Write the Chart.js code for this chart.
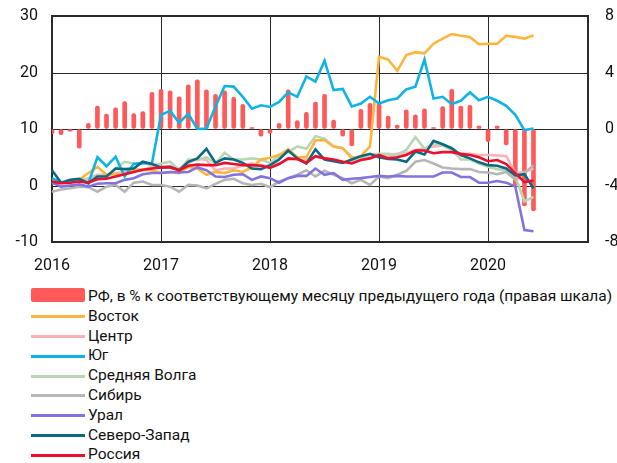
<!DOCTYPE html>
<html>
<head>
<meta charset="utf-8">
<script src="https://cdn.jsdelivr.net/npm/chart.js@4/dist/chart.umd.min.js"></script>
<style>
  html, body { margin: 0; padding: 0; background: #fff; }
  #c { display: block; }
  #legend { position: absolute; left: 0; top: 287px; font-family: Roboto, sans-serif; font-size: 15.5px; color: #111; }
  .row { position: relative; height: 19.8px; white-space: nowrap; }
  .sw { position: absolute; left: 31px; width: 54px; }
  .txt { position: absolute; left: 88px; top: 0; line-height: 19.8px; }
</style>
</head>
<body>
<canvas id="c" width="617" height="282"></canvas>
<div id="legend"></div>
<script>
// Categories: months Jan 2016 .. Dec 2020
const months = [
  '2016-01','2016-02','2016-03','2016-04','2016-05','2016-06','2016-07','2016-08','2016-09','2016-10','2016-11','2016-12',
  '2017-01','2017-02','2017-03','2017-04','2017-05','2017-06','2017-07','2017-08','2017-09','2017-10','2017-11','2017-12',
  '2018-01','2018-02','2018-03','2018-04','2018-05','2018-06','2018-07','2018-08','2018-09','2018-10','2018-11','2018-12',
  '2019-01','2019-02','2019-03','2019-04','2019-05','2019-06','2019-07','2019-08','2019-09','2019-10','2019-11','2019-12',
  '2020-01','2020-02','2020-03','2020-04','2020-05','2020-06','2020-07','2020-08','2020-09','2020-10','2020-11','2020-12'
];
const yearLabels = ['2016','2017','2018','2019','2020'];

// RF, % y/y (right axis)
const rfBars = [-0.35,-0.4,-0.15,-1.35,0.4,1.63,1.06,1.5,1.94,1.1,1.23,2.6,
  2.8,2.7,2.27,3.12,3.48,2.77,2.46,2.7,2.25,1.75,0.1,-0.5,
  -0.3,0.4,2.77,0.6,1.18,1.9,2.46,0.64,-0.5,-1.2,1.4,1.82,
  1.82,0.92,0.28,1.35,1.0,1.42,0.1,1.58,2.8,1.63,1.68,0.2,
  -0.9,0.2,-1.13,-4.0,-5.45,-5.8];

const vostok = [0.4,0.5,0.7,1.0,2.2,3.3,1.9,2.0,1.9,2.7,2.8,2.7,
  2.2,2.4,2.2,3.3,3.0,1.9,2.4,2.2,2.7,2.4,3.2,4.6,
  4.9,5.4,6.4,5.0,5.0,8.0,8.0,6.9,6.6,4.8,5.2,6.9,
  22.8,22.3,20.3,23.1,23.6,23.4,25.1,26.0,26.8,26.5,26.3,25.0,
  25.1,25.1,26.5,26.3,26.0,26.6];

const centr = [0.7,0.4,0.7,0.7,1.3,1.9,1.9,2.2,2.4,3.0,2.7,3.3,
  3.3,3.4,3.0,3.9,4.8,4.5,2.7,3.0,3.0,3.6,3.9,3.6,
  3.4,3.9,4.6,4.6,4.5,5.1,4.8,4.5,4.2,4.2,4.8,5.1,
  5.6,5.1,5.6,5.7,6.3,6.6,6.9,7.1,6.3,5.6,5.6,5.4,
  5.4,5.3,5.2,2.2,2.4,3.0];

const yug = [1.3,0.5,0.7,1.0,0.4,5.0,3.4,5.1,1.6,3.8,4.0,3.9,
  12.5,13.2,11.1,12.7,10.0,10.1,14.0,17.6,17.5,15.7,13.6,14.2,
  13.9,14.8,16.5,15.7,19.3,18.4,22.1,16.9,17.1,14.0,14.5,15.7,
  14.5,15.1,15.4,17.0,17.5,22.3,15.4,15.7,14.4,15.0,16.5,15.1,
  15.7,15.0,14.1,12.5,9.8,10.1];

const volga = [0.7,0.5,0.7,1.0,1.0,1.7,1.6,3.0,4.2,3.9,4.0,3.6,
  3.9,4.2,2.7,4.6,4.5,5.0,3.9,5.8,4.6,4.6,4.8,4.6,
  4.0,5.2,5.9,6.9,6.5,8.7,8.3,6.9,6.6,5.1,4.6,5.4,
  5.6,5.6,5.4,6.3,8.6,6.5,7.5,7.1,6.3,4.6,4.6,3.9,
  3.3,2.9,2.7,1.6,-2.8,-2.0];

const sibir = [-1.1,-0.7,-0.5,-0.2,-0.3,-1.1,-0.2,0.1,-1.1,0.5,0.7,0.1,
  0.1,-0.2,-1.1,0.1,0.0,-0.5,0.3,1.0,1.2,0.4,0.1,0.3,
  -0.3,0.7,1.3,1.9,2.7,1.6,2.6,1.9,1.3,0.4,1.0,0.1,
  1.6,1.3,1.9,2.6,4.2,4.5,3.9,3.2,3.0,2.9,2.9,2.4,
  2.3,2.0,2.4,1.0,2.2,3.6];

const ural = [0.5,-0.2,0.0,0.2,-0.2,0.3,0.4,0.4,1.0,1.3,2.0,2.2,
  2.2,2.4,2.3,2.4,3.2,2.7,1.6,1.5,1.9,2.0,1.0,1.6,
  1.3,0.5,1.3,1.7,1.7,3.0,1.9,2.2,1.0,1.2,1.3,1.5,
  1.7,1.6,1.7,1.6,1.6,1.6,1.6,2.3,2.3,1.5,1.5,0.5,
  0.5,0.8,0.5,-0.2,-7.9,-8.1];

const sevzap = [2.7,0.5,1.0,1.2,0.4,1.6,1.6,3.0,2.9,3.0,4.2,3.8,
  3.2,3.3,2.7,4.2,4.8,6.5,4.0,4.8,4.6,4.0,3.0,2.9,
  3.6,4.6,6.2,4.8,3.9,6.4,4.6,4.3,4.0,4.6,5.2,5.6,
  5.0,4.7,4.6,4.2,6.0,5.5,7.9,7.3,6.6,5.4,4.8,4.1,
  3.6,3.5,3.0,1.8,2.0,-0.5];

const rossiya = [0.7,0.4,0.5,0.7,0.5,1.1,1.2,1.6,2.0,2.4,2.8,3.0,
  3.2,3.2,2.7,3.5,3.7,3.6,3.6,4.0,3.8,3.6,3.6,3.5,
  3.1,3.8,4.8,4.7,4.0,5.2,4.8,4.6,4.2,3.9,4.5,4.8,
  5.4,4.8,5.0,5.4,6.2,6.2,5.7,5.9,5.9,5.6,5.4,5.0,
  4.3,4.5,3.8,2.2,0.6,0.9];

const seriesNames = ['РФ, в % к соответствующему месяцу предыдущего года (правая шкала)',
  'Восток','Центр','Юг','Средняя Волга','Сибирь','Урал','Северо-Запад','Россия'];
const seriesColors = ['#ff5a5a','#ffb43c','#f8b4b4','#10b4e4','#b9d6b4','#b6b6b6','#8274e0','#0b6a80','#e8102e'];
const lineData = [vostok, centr, yug, volga, sibir, ural, sevzap, rossiya];
const drawOrder = [9, 5, 8, 3, 7, 6, 4, 2, 1]; // lower = drawn on top

const gridColor = '#2a2a2a';
const clear = 'rgba(0,0,0,0)';

const datasets = [{
  type: 'bar', label: seriesNames[0], data: rfBars, yAxisID: 'y1',
  backgroundColor: seriesColors[0], barThickness: 4, borderRadius: 2, borderSkipped: false,
  order: drawOrder[0]
}];
lineData.forEach((d, k) => {
  datasets.push({
    type: 'line', label: seriesNames[k + 1], data: d, yAxisID: 'y',
    borderColor: seriesColors[k + 1], backgroundColor: seriesColors[k + 1],
    borderWidth: 2.6, pointRadius: 0, tension: 0,
    order: drawOrder[k + 1]
  });
});

// Frame and grid drawn through the chart's own scales
const framePlugin = {
  id: 'frame',
  beforeDatasetsDraw(chart) {
    const { ctx, chartArea: a, scales } = chart;
    ctx.save();
    ctx.strokeStyle = gridColor;
    ctx.lineWidth = 1;
    ctx.beginPath();
    scales.y.ticks.forEach((t) => {
      const py = Math.round(scales.y.getPixelForValue(t.value)) + 0.5;
      ctx.moveTo(a.left, py); ctx.lineTo(a.right, py);
    });
    yearLabels.forEach((lab, j) => {
      const px = Math.round(scales.x.getPixelForValue(j * 12)) + 0.5;
      ctx.moveTo(px, a.top); ctx.lineTo(px, a.bottom);
    });
    ctx.stroke();
    ctx.lineWidth = 2;
    ctx.strokeRect(Math.round(a.left), Math.round(a.top), Math.round(a.right - a.left), Math.round(a.bottom - a.top));
    ctx.restore();
  }
};

const tickFont = { family: 'Roboto, sans-serif', size: 16 };

const chart = new Chart(document.getElementById('c'), {
  type: 'bar',
  data: { labels: months, datasets },
  plugins: [framePlugin],
  options: {
    responsive: false, animation: false,
    plugins: { legend: { display: false }, tooltip: { enabled: false } },
    layout: { padding: { top: 16, left: 0, right: 0, bottom: 0 } },
    scales: {
      x: {
        type: 'category', offset: false,
        grid: { drawOnChartArea: false, drawTicks: false },
        border: { display: false },
        ticks: { autoSkip: false, maxRotation: 0, padding: 14, color: '#111', font: tickFont,
          callback: (v, i) => (i % 12 === 0 ? yearLabels[i / 12] : '') },
        afterFit: (s) => { s.height = 40; }
      },
      y: {
        type: 'linear', position: 'left', min: -10, max: 30,
        grid: { drawOnChartArea: false, drawTicks: true, tickLength: 14, tickColor: clear },
        border: { display: false },
        ticks: { stepSize: 10, padding: 0, color: '#111', font: tickFont },
        afterFit: (s) => { s.width = 52; }
      },
      y1: {
        type: 'linear', position: 'right', min: -8, max: 8,
        grid: { drawOnChartArea: false, drawTicks: true, tickLength: 17, tickColor: clear },
        border: { display: false },
        ticks: { stepSize: 4, padding: 0, color: '#111', font: tickFont },
        afterFit: (s) => { s.width = 29; }
      }
    }
  }
});

// HTML legend built from the chart's datasets
const legend = document.getElementById('legend');
chart.data.datasets.forEach((ds) => {
  const row = document.createElement('div');
  row.className = 'row';
  const sw = document.createElement('div');
  sw.className = 'sw';
  if (ds.type === 'bar') {
    sw.style.top = '1px'; sw.style.height = '14px'; sw.style.borderRadius = '2px';
  } else {
    sw.style.top = '8.5px'; sw.style.height = '3px';
  }
  sw.style.background = ds.type === 'bar' ? ds.backgroundColor : ds.borderColor;
  const t = document.createElement('span');
  t.className = 'txt';
  t.textContent = ds.label;
  row.appendChild(sw); row.appendChild(t);
  legend.appendChild(row);
});
</script>
</body>
</html>
